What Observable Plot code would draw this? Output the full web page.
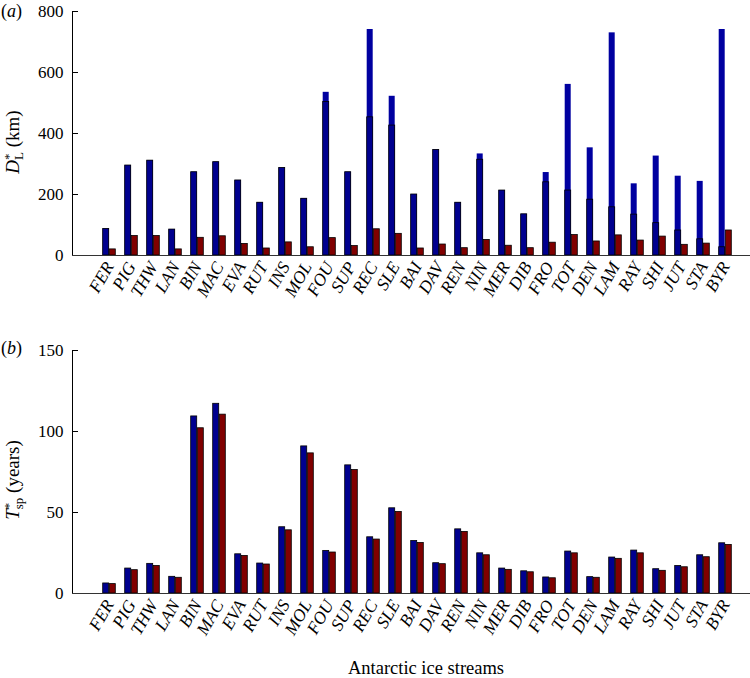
<!DOCTYPE html>
<html><head><meta charset="utf-8">
<script src="https://cdn.jsdelivr.net/npm/d3@7"></script>
<script src="https://cdn.jsdelivr.net/npm/@observablehq/plot@0.6"></script>
<style>
body{margin:0;background:#fff;}
#chart{width:750px;height:678px;position:relative;font-family:"Liberation Serif","DejaVu Serif",serif;}
#chart svg{display:block;overflow:visible;}
</style></head><body><div id="chart"></div>
<script>
// Antarctic ice stream codes
const streams = ["FER","PIG","THW","LAN","BIN","MAC","EVA","RUT","INS","MOL","FOU","SUP","REC","SLE","BAI","DAV","REN","NIN","MER","DIB","FRO","TOT","DEN","LAM","RAY","SHI","JUT","STA","BYR"];
// Panel (a): D*_L (km)
const dlBlueTotal    = [87,295,311,85,273,306,246,173,287,186,535,273,741,522,200,346,173,333,213,135,272,561,353,730,235,326,260,243,741];
const dlBlueOutlined = [87,295,311,85,273,306,246,173,287,186,503,273,453,426,200,346,173,314,213,135,240,213,183,158,134,106,82,53,27];
const dlRed          = [20,64,64,20,58,63,38,23,43,27,57,31,86,71,23,36,24,51,32,24,42,67,46,66,49,62,35,39,82];
// Panel (b): T*_sp (years)
const tspBlue = [6.2,15.4,18.3,10.3,109.3,117.1,24.2,18.5,40.9,90.8,26.3,79.1,34.7,52.6,32.4,18.7,39.6,24.8,15.4,13.7,9.9,25.9,10.1,22.2,26.5,15.0,17.0,23.6,31.0];
const tspRed  = [5.8,14.4,17.0,9.7,102.0,110.4,23.2,17.9,39.0,86.5,25.3,76.2,33.3,50.3,31.2,18.1,38.0,23.6,14.6,13.1,9.4,24.8,9.7,21.4,24.8,14.0,16.2,22.4,30.0];
const yTicksA = [0,200,400,600,800];
const yTicksB = [0,50,100,150];

const rowsA = streams.map((s,i)=>({s, total: dlBlueTotal[i], outl: dlBlueOutlined[i], red: dlRed[i]}));
const rowsB = streams.map((s,i)=>({s, blue: tspBlue[i], red: tspRed[i]}));

const BLUE = "#00008f", BLUE_HI = "#0000a0", RED = "#800000";
const FONT = "Liberation Serif, DejaVu Serif, serif";
const xScale = {type:"band", domain: streams, range:[89.4, 744.8], padding:0};
const inL = 4.7, inR = 11.3;

function common(yTicks){
  return [
    Plot.axisY({ticks: yTicks, tickSize:-6, tickPadding:15, fontSize:17, fontFamily:FONT, label:null, tickFormat:d=>String(d)}),
    Plot.axisX({tickRotate:-60, tickSize:0, tickPadding:8, fontSize:17.5, fontStyle:"italic", fontFamily:FONT, label:null}),
    Plot.frame({anchor:"left"}),
    Plot.frame({anchor:"bottom", stroke:"#333"})
  ];
}

const plotA = Plot.plot({
  width:750, height:310, marginTop:11, marginBottom:55, marginLeft:72, marginRight:0,
  style:{fontFamily:FONT, background:"white", overflow:"visible"},
  x: xScale,
  y: {domain:[0,800], axis:null},
  marks: [
    Plot.barY(rowsA, {x:"s", y:"total", fill:BLUE_HI, insetLeft:inL, insetRight:inR}),
    Plot.barY(rowsA, {x:"s", y:"outl", fill:BLUE, stroke:"black", strokeWidth:0.8, insetLeft:inL, insetRight:inR}),
    Plot.barY(rowsA, {x:"s", y:"red", fill:RED, stroke:"black", strokeWidth:0.8, insetLeft:inR, insetRight:inL}),
    ...common(yTicksA)
  ]
});

const plotB = Plot.plot({
  width:750, height:368, marginTop:40, marginBottom:85, marginLeft:72, marginRight:0,
  style:{fontFamily:FONT, background:"white", overflow:"visible"},
  x: xScale,
  y: {domain:[0,150], axis:null},
  marks: [
    Plot.barY(rowsB, {x:"s", y:"blue", fill:BLUE, stroke:"black", strokeWidth:0.8, insetLeft:inL, insetRight:inR}),
    Plot.barY(rowsB, {x:"s", y:"red", fill:RED, stroke:"black", strokeWidth:0.8, insetLeft:inR, insetRight:inL}),
    ...common(yTicksB)
  ]
});

const chart = document.getElementById("chart");
chart.appendChild(plotA);
chart.appendChild(plotB);

function panelLabel(svg, letter, y){
  const t = d3.select(svg).append("text").attr("x",1).attr("y",y).attr("text-anchor","start")
    .attr("font-family",FONT).attr("font-size",18).attr("fill","black");
  t.append("tspan").text("(");
  t.append("tspan").attr("font-style","italic").text(letter);
  t.append("tspan").text(")");
}
function yLabel(svg, main, sub, rest, cy){
  const t = d3.select(svg).append("text")
    .attr("transform",`translate(18.5,${cy}) rotate(-90)`)
    .attr("text-anchor","middle").attr("font-family",FONT).attr("font-size",19).attr("fill","black");
  t.append("tspan").attr("font-style","italic").text(main);
  t.append("tspan").attr("font-size",13).attr("dy",-6).text("*");
  t.append("tspan").attr("font-size",13).attr("dx",-6.5).attr("dy",10).text(sub);
  t.append("tspan").attr("dy",-4).text(" " + rest);
}
panelLabel(plotA, "a", 17);
panelLabel(plotB, "b", 44);
yLabel(plotA, "D", "L", "(km)", 142);
yLabel(plotB, "T", "sp", "(years)", 170);
d3.select(plotB).append("text").attr("x",426).attr("y",364).attr("text-anchor","middle")
  .attr("font-family",FONT).attr("font-size",18.5).attr("fill","black").text("Antarctic ice streams");
</script>
</body></html>
